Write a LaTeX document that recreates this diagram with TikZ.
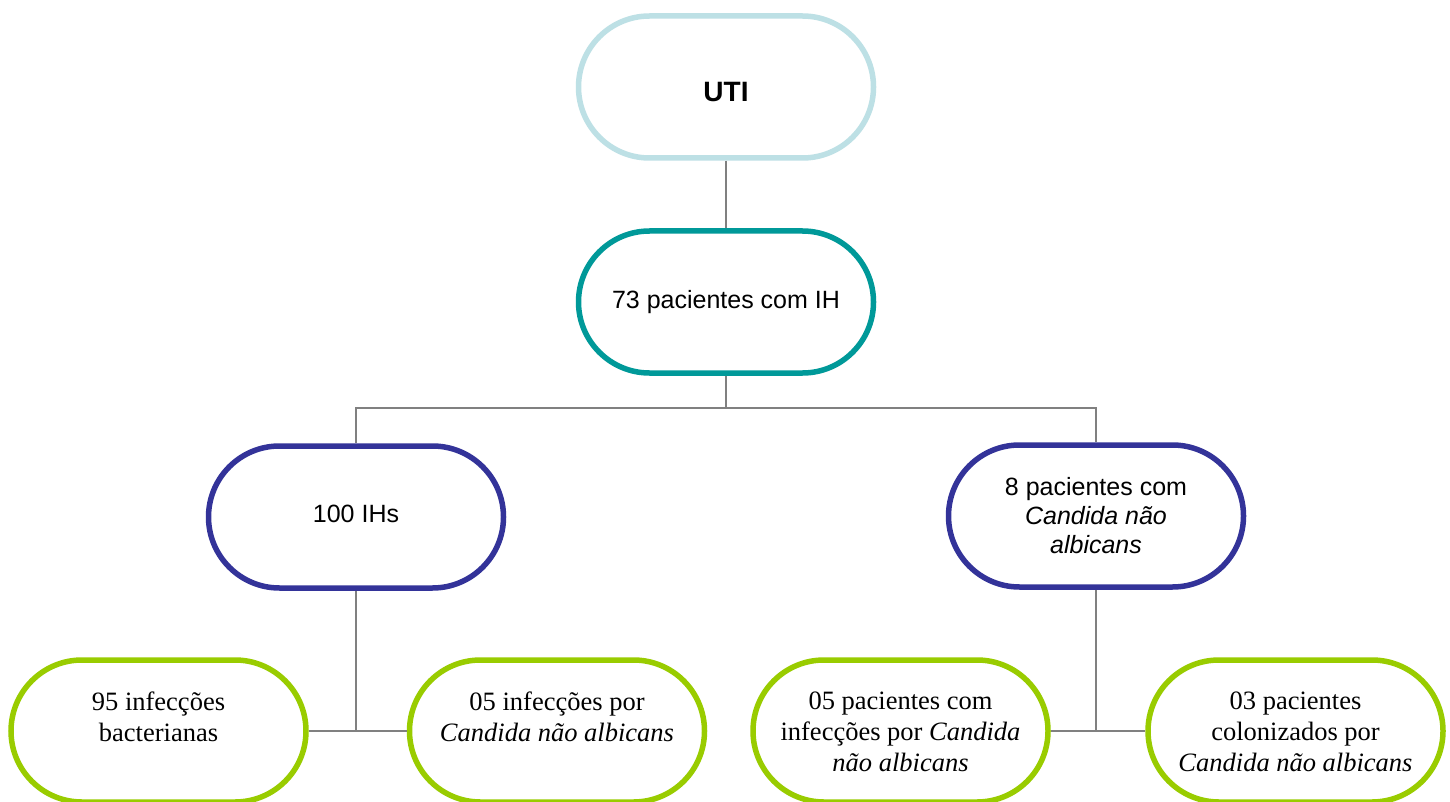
\documentclass[tikz,border=0pt]{standalone}
\usepackage{fontspec}
\setmainfont{Liberation Serif}
\setsansfont{Liberation Sans}
\definecolor{utiblue}{HTML}{BDE0E5}
\definecolor{teal2}{HTML}{009999}
\definecolor{navy2}{HTML}{333399}
\definecolor{green2}{HTML}{99CC00}
\definecolor{link}{HTML}{808080}
\tikzset{
  pill/.style={draw, line width=5.5pt, fill=white, rounded corners=71pt,
    minimum width=295pt, minimum height=142pt, inner sep=0pt, align=center},
  toppill/.style={pill, font=\sffamily\fontsize{25}{29}\selectfont},
  botpill/.style={pill, draw=green2, font=\rmfamily\fontsize{26.5}{31}\selectfont},
  conn/.style={draw=link, line width=1.8pt}
}
\newcommand{\botbox}[1]{\parbox[c][78pt][t]{290pt}{\centering #1}}
\begin{document}
\begin{tikzpicture}[x=1pt,y=-1pt]
\clip (0,0) rectangle (1450,802);
\fill[white] (0,0) rectangle (1450,802);
% nodes
\node[toppill, draw=utiblue] (uti) at (726,87) {\raisebox{-5pt}[20pt][0pt]{\fontsize{28}{32}\selectfont\bfseries UTI}};
\node[toppill, draw=teal2] (ih73) at (726,302) {73 pacientes com IH};
\node[toppill, draw=navy2] (ihs) at (356,517) {\raisebox{4pt}[18pt][0pt]{100 IHs}};
\node[toppill, draw=navy2] (cand) at (1096,516) {8 pacientes com\\\itshape Candida não\\\itshape albicans};
\node[botpill] (bact) at (158.5,731) {\botbox{95 infecções\\bacterianas}};
\node[botpill] (infc) at (557,731) {\botbox{05 infecções por\\\textit{Candida não albicans}}};
\node[botpill] (pinf) at (900.5,731) {\botbox{05 pacientes com\\infecções por \textit{Candida}\\\textit{não albicans}}};
\node[botpill] (pcol) at (1295.5,731) {\botbox{03 pacientes\\colonizados por\\\textit{Candida não albicans}}};
\coordinate (bus) at (726,408);
% connectors
\draw[conn] (uti.south) -- (ih73.north);
\draw[conn] (ih73.south) -- (bus);
\draw[conn] (bus) -| (ihs.north);
\draw[conn] (bus) -| (cand.north);
\draw[conn] (ihs.south) -- (ihs.south |- bact.east);
\draw[conn] (bact.east) -- (infc.west);
\draw[conn] (cand.south) -- (cand.south |- pinf.east);
\draw[conn] (pinf.east) -- (pcol.west);
\end{tikzpicture}
\end{document}
